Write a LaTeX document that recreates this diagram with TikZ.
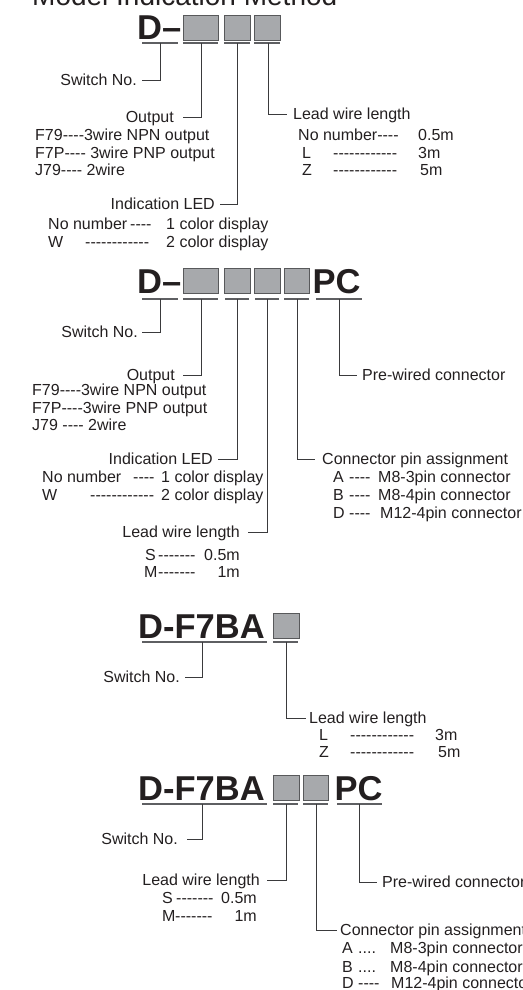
\documentclass[tikz,border=0pt]{standalone}
\usepackage{fontspec}
\setmainfont{Liberation Sans}[Ligatures=TeXOff]
\definecolor{txt}{HTML}{231F20}
\definecolor{sqfill}{HTML}{A7A9AC}
\definecolor{sqline}{HTML}{58595B}
\definecolor{lncol}{HTML}{3A3A3C}
\definecolor{ulcol}{HTML}{5E5F62}
\begin{document}
\begin{tikzpicture}[x=1pt,y=-1pt,
  lbl/.style={font=\fontsize{16}{18}\selectfont, text=txt, inner sep=0pt, text height=11.6pt, text depth=0pt},
  big/.style={font=\fontsize{34.5}{40}\selectfont\bfseries, text=txt, inner sep=0pt, anchor=base west},
  sq/.style={draw=sqline, fill=sqfill, line width=1pt, inner sep=0pt, anchor=north west, minimum height=25pt},
  ul/.style={draw=ulcol, line width=1.5pt},
  conn/.style={draw=lncol, line width=0.9pt}]
\useasboundingbox (0,0) rectangle (522,990);

% title (clipped at top edge)
\node[font=\fontsize{28}{32}\selectfont, text=txt, inner sep=0pt, anchor=base west] (title) at (32,6) {Model Indication Method};

% ================= Section 1 =================
\node[big] (h1) at (137,40) {D–};
\node[sq, minimum width=35pt] (s1a) at (183,15) {};
\node[sq, minimum width=26pt] (s1b) at (224,15) {};
\node[sq, minimum width=26pt] (s1c) at (254,15) {};
\draw[ul] (142,43) -- (178,43);
\draw[ul] (183,43) -- (218,43);
\draw[ul] (224,43) -- (250,43);
\draw[ul] (254,43) -- (280,43);
\coordinate (c1a) at (160,43);
\coordinate (c1b) at (201,43);
\coordinate (c1c) at (237,43);
\coordinate (c1d) at (268,43);
\node[lbl, anchor=east] (sw1) at (137,80) {Switch No.};
\node[lbl, anchor=east] (out1) at (174,117) {Output};
\node[lbl, anchor=east] (led1) at (215,204) {Indication LED};
\node[lbl, anchor=west] (lead1) at (293,114) {Lead wire length};
\draw[conn] (c1a) |- ([xshift=5pt]sw1.east);
\draw[conn] (c1b) |- ([xshift=9pt]out1.east);
\draw[conn] (c1c) |- ([xshift=5pt]led1.east);
\draw[conn] (c1d) |- ([xshift=-6pt]lead1.west);

\node[lbl, anchor=west] (o1a) at (35,135) {F79----3wire NPN output};
\node[lbl, anchor=west] (o1b) at (35,153) {F7P---- 3wire PNP output};
\node[lbl, anchor=west] (o1c) at (35,170) {J79---- 2wire};
\node[lbl, anchor=west] (e1a) at (48,224) {No number};
\node[lbl, anchor=west] (e1ad) at (130,224) {----};
\node[lbl, anchor=west] (e1av) at (166,224) {1 color display};
\node[lbl, anchor=west] (e1b) at (48,242) {W};
\node[lbl, anchor=west] (e1bd) at (85,242) {------------};
\node[lbl, anchor=west] (e1bv) at (166,242) {2 color display};
\node[lbl, anchor=west] (l1a) at (298,135) {No number----};
\node[lbl, anchor=west] (l1av) at (418,135) {0.5m};
\node[lbl, anchor=west] (l1b) at (302,153) {L};
\node[lbl, anchor=west] (l1bd) at (333,153) {------------};
\node[lbl, anchor=west] (l1bv) at (418,153) {3m};
\node[lbl, anchor=west] (l1c) at (302,170) {Z};
\node[lbl, anchor=west] (l1cd) at (333,170) {------------};
\node[lbl, anchor=west] (l1cv) at (420,170) {5m};

% ================= Section 2 =================
\node[big] (h2) at (137,293) {D–};
\node[sq, minimum width=35pt] (s2a) at (183,268) {};
\node[sq, minimum width=26pt] (s2b) at (224,268) {};
\node[sq, minimum width=26pt] (s2c) at (254,268) {};
\node[sq, minimum width=25pt] (s2d) at (284,268) {};
\node[big] (pc2) at (312.5,293) {PC};
\draw[ul] (142,299) -- (178,299);
\draw[ul] (183,299) -- (218,299);
\draw[ul] (225,299) -- (249,299);
\draw[ul] (255,299) -- (279,299);
\draw[ul] (284,299) -- (309,299);
\draw[ul] (316,299) -- (362,299);
\coordinate (c2a) at (160,299);
\coordinate (c2b) at (201,299);
\coordinate (c2c) at (237,299);
\coordinate (c2d) at (267,299);
\coordinate (c2e) at (297,299);
\coordinate (c2f) at (339,299);
\node[lbl, anchor=east] (sw2) at (138,332) {Switch No.};
\node[lbl, anchor=east] (out2) at (175,375) {Output};
\node[lbl, anchor=east] (led2) at (213,459) {Indication LED};
\node[lbl, anchor=east] (lead2) at (240,532) {Lead wire length};
\node[lbl, anchor=west] (con2) at (322,459) {Connector pin assignment};
\node[lbl, anchor=west] (pre2) at (362,375) {Pre-wired connector};
\draw[conn] (c2a) |- ([xshift=4pt]sw2.east);
\draw[conn] (c2b) |- ([xshift=8pt]out2.east);
\draw[conn] (c2c) |- ([xshift=5pt]led2.east);
\draw[conn] (c2d) |- ([xshift=8pt]lead2.east);
\draw[conn] (c2e) |- ([xshift=-7pt]con2.west);
\draw[conn] (c2f) |- ([xshift=-5pt]pre2.west);

\node[lbl, anchor=west] (o2a) at (32,390) {F79----3wire NPN output};
\node[lbl, anchor=west] (o2b) at (32,408) {F7P----3wire PNP output};
\node[lbl, anchor=west] (o2c) at (32,425) {J79 ---- 2wire};
\node[lbl, anchor=west] (e2a) at (42,477) {No number};
\node[lbl, anchor=west] (e2ad) at (133,477) {----};
\node[lbl, anchor=west] (e2av) at (161,477) {1 color display};
\node[lbl, anchor=west] (e2b) at (42,495) {W};
\node[lbl, anchor=west] (e2bd) at (90,495) {------------};
\node[lbl, anchor=west] (e2bv) at (161,495) {2 color display};
\node[lbl, anchor=west] (p2a) at (333,477) {A};
\node[lbl, anchor=west] (p2ad) at (349,477) {----};
\node[lbl, anchor=west] (p2av) at (378,477) {M8-3pin connector};
\node[lbl, anchor=west] (p2b) at (333,495) {B};
\node[lbl, anchor=west] (p2bd) at (349,495) {----};
\node[lbl, anchor=west] (p2bv) at (378,495) {M8-4pin connector};
\node[lbl, anchor=west] (p2c) at (333,513) {D};
\node[lbl, anchor=west] (p2cd) at (349,513) {----};
\node[lbl, anchor=west] (p2cv) at (380,513) {M12-4pin connector};
\node[lbl, anchor=west] (l2a) at (145,555) {S};
\node[lbl, anchor=west] (l2ad) at (158,555) {-------};
\node[lbl, anchor=east] (l2av) at (240,555) {0.5m};
\node[lbl, anchor=west] (l2b) at (144,572) {M};
\node[lbl, anchor=west] (l2bd) at (158,572) {-------};
\node[lbl, anchor=east] (l2bv) at (240,572) {1m};

% ================= Section 3 =================
\node[big] (h3) at (138,638) {D-F7BA};
\node[sq, minimum width=26pt] (s3a) at (273,613) {};
\draw[ul] (142,642) -- (267,642);
\draw[ul] (273,642) -- (298,642);
\coordinate (c3a) at (202,642);
\coordinate (c3b) at (286,642);
\node[lbl, anchor=east] (sw3) at (180,677) {Switch No.};
\node[lbl, anchor=west] (lead3) at (309,718) {Lead wire length};
\draw[conn] (c3a) |- ([xshift=5pt]sw3.east);
\draw[conn] (c3b) |- ([xshift=-3pt]lead3.west);
\node[lbl, anchor=west] (l3a) at (319,735) {L};
\node[lbl, anchor=west] (l3ad) at (350,735) {------------};
\node[lbl, anchor=west] (l3av) at (435,735) {3m};
\node[lbl, anchor=west] (l3b) at (319,752) {Z};
\node[lbl, anchor=west] (l3bd) at (350,752) {------------};
\node[lbl, anchor=west] (l3bv) at (438,752) {5m};

% ================= Section 4 =================
\node[big] (h4) at (138,800) {D-F7BA};
\node[sq, minimum width=26pt] (s4a) at (273,775) {};
\node[sq, minimum width=25pt] (s4b) at (303,775) {};
\node[big] (pc4) at (334.5,800) {PC};
\draw[ul] (142,804) -- (267,804);
\draw[ul] (273,804) -- (298,804);
\draw[ul] (303,804) -- (328,804);
\draw[ul] (337,804) -- (382,804);
\coordinate (c4a) at (202,804);
\coordinate (c4b) at (286,804);
\coordinate (c4c) at (316,804);
\coordinate (c4d) at (359,804);
\node[lbl, anchor=east] (sw4) at (178,839) {Switch No.};
\node[lbl, anchor=east] (lead4) at (260,880) {Lead wire length};
\node[lbl, anchor=west] (con4) at (340,930) {Connector pin assignment};
\node[lbl, anchor=west] (pre4) at (382,882) {Pre-wired connector};
\draw[conn] (c4a) |- ([xshift=9pt]sw4.east);
\draw[conn] (c4b) |- ([xshift=7pt]lead4.east);
\draw[conn] (c4c) |- ([xshift=-3pt]con4.west);
\draw[conn] (c4d) |- ([xshift=-5pt]pre4.west);
\node[lbl, anchor=west] (l4a) at (162,898) {S};
\node[lbl, anchor=west] (l4ad) at (176,898) {-------};
\node[lbl, anchor=east] (l4av) at (257,898) {0.5m};
\node[lbl, anchor=west] (l4b) at (162,916) {M};
\node[lbl, anchor=west] (l4bd) at (175,916) {-------};
\node[lbl, anchor=east] (l4bv) at (257,916) {1m};
\node[lbl, anchor=west] (p4a) at (342,948) {A};
\node[lbl, anchor=west] (p4ad) at (358,948) {....};
\node[lbl, anchor=west] (p4av) at (390,948) {M8-3pin connector};
\node[lbl, anchor=west] (p4b) at (342,967) {B};
\node[lbl, anchor=west] (p4bd) at (358,967) {....};
\node[lbl, anchor=west] (p4bv) at (390,967) {M8-4pin connector};
\node[lbl, anchor=west] (p4c) at (342,983) {D};
\node[lbl, anchor=west] (p4cd) at (358,983) {----};
\node[lbl, anchor=west] (p4cv) at (391,983) {M12-4pin connector};
\end{tikzpicture}
\end{document}
